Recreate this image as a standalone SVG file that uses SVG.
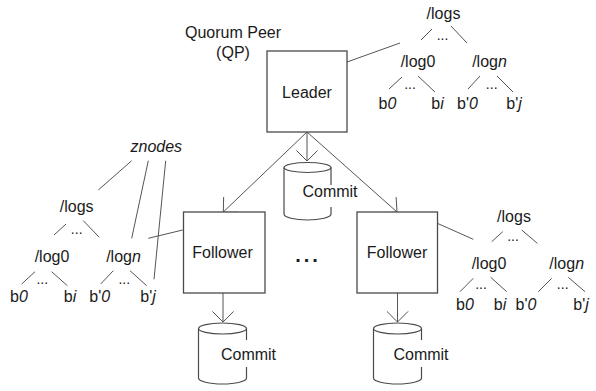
<svg xmlns="http://www.w3.org/2000/svg" width="596" height="391" viewBox="0 0 596 391">
<style>
text{font-family:"Liberation Sans",Arial,sans-serif;font-size:16px;fill:#1a1a1a;text-anchor:middle}
.it{font-style:italic}
.box{fill:#fff;stroke:#4a4a4a;stroke-width:1.3}
.ln{fill:none;stroke:#555;stroke-width:1}
.cyl{fill:none;stroke:#4a4a4a;stroke-width:1.2}
.dots{font-size:14px}
.big{font-size:20px;font-weight:bold;letter-spacing:3px}
</style>
<defs>
<marker id="arr" markerUnits="userSpaceOnUse" viewBox="-1 -1 13 23" markerWidth="13" markerHeight="23" refX="10.6" refY="10.6" orient="auto">
<path d="M0,0 L10.6,10.6 L0,21.2" fill="none" stroke="#555" stroke-width="1"/>
</marker>
</defs>

<g id="connectors" class="ln">
<line x1="307" y1="132" x2="307" y2="161" marker-end="url(#arr)"/>
<line x1="307" y1="132" x2="223.3" y2="212" marker-end="url(#arr)"/>
<line x1="307" y1="132" x2="397" y2="212" marker-end="url(#arr)"/>
<line x1="223" y1="293" x2="223" y2="322" marker-end="url(#arr)"/>
<line x1="397.5" y1="293" x2="397.5" y2="322" marker-end="url(#arr)"/>
<line x1="347" y1="62" x2="400" y2="43"/>
<line x1="182.7" y1="230" x2="148.3" y2="238.3"/>
<line x1="437.3" y1="223.3" x2="473.3" y2="239.3"/>
</g>

<g id="quorum-label">
<text x="233" y="37.5">Quorum Peer</text>
<text x="233" y="58">(QP)</text>
</g>

<g id="leader">
<rect class="box" x="267" y="51" width="80" height="81"/>
<text x="307" y="98">Leader</text>
</g>

<g id="follower-left">
<rect class="box" x="183.5" y="212" width="81.5" height="81"/>
<text x="222.5" y="257.5">Follower</text>
</g>

<g id="follower-right">
<rect class="box" x="357" y="212" width="80.5" height="81"/>
<text x="397" y="257.5">Follower</text>
</g>

<g id="ellipsis">
<text class="big" x="308" y="262">...</text>
</g>

<g id="commit-leader" class="cyl">
<ellipse cx="307.5" cy="167.5" rx="23.5" ry="5"/>
<path d="M284,167.5 V214 A23.5 6 0 0 0 331,214 V207 M331,185 V167.5"/>
<text x="330" y="197" stroke="none">Commit</text>
</g>

<g id="commit-left" class="cyl">
<ellipse cx="222.5" cy="328.5" rx="24" ry="5.5"/>
<path d="M198.5,328.5 V378 A24 6 0 0 0 246.5,378 V367 M246.5,340 V328.5"/>
<text x="248.5" y="359.5" stroke="none">Commit</text>
</g>

<g id="commit-right" class="cyl">
<ellipse cx="397.5" cy="328.5" rx="24" ry="5.5"/>
<path d="M373.5,328.5 V378 A24 6 0 0 0 421.5,378 V367 M421.5,340 V328.5"/>
<text x="421" y="359.5" stroke="none">Commit</text>
</g>

<g id="tree-leader">
<g class="ln">
<line x1="421" y1="40" x2="432" y2="29"/>
<line x1="451" y1="26" x2="467" y2="43"/>
<line x1="389" y1="89" x2="402" y2="77"/>
<line x1="418" y1="76" x2="435" y2="92"/>
<line x1="468" y1="89" x2="480" y2="76"/>
<line x1="497" y1="76" x2="513" y2="92"/>
</g>
<text x="443.5" y="18.5">/logs</text>
<text class="dots" x="442.5" y="39.5">...</text>
<text x="418" y="66.5">/log0</text>
<text x="489.5" y="66.5">/log<tspan class="it">n</tspan></text>
<text class="dots" x="410" y="88.5">...</text>
<text class="dots" x="491.7" y="88.5">...</text>
<text x="387.5" y="109">b<tspan class="it">0</tspan></text>
<text x="437.5" y="109">b<tspan class="it">i</tspan></text>
<text x="467.5" y="109">b'<tspan class="it">0</tspan></text>
<text x="514" y="109">b'<tspan class="it">j</tspan></text>
</g>

<g id="tree-left">
<g class="ln">
<line x1="131.7" y1="160.7" x2="98.3" y2="190"/>
<line x1="148.3" y1="160.7" x2="131.7" y2="238.3"/>
<line x1="165.7" y1="160.7" x2="154" y2="279.3"/>
<line x1="54" y1="235" x2="66" y2="224"/>
<line x1="83.3" y1="220.7" x2="99.3" y2="237.3"/>
<line x1="21.7" y1="284" x2="35" y2="271.7"/>
<line x1="51.7" y1="271.7" x2="67.3" y2="285.7"/>
<line x1="100.7" y1="284" x2="113.3" y2="270.7"/>
<line x1="130" y1="270.7" x2="146.7" y2="285.7"/>
</g>
<text class="it" x="156.3" y="152">znodes</text>
<text x="76.7" y="212">/logs</text>
<text class="dots" x="76.7" y="234">...</text>
<text x="52" y="261.5">/log0</text>
<text x="123.5" y="261.5">/log<tspan class="it">n</tspan></text>
<text class="dots" x="42.3" y="283.7">...</text>
<text class="dots" x="124.3" y="283.7">...</text>
<text x="19" y="301.5">b<tspan class="it">0</tspan></text>
<text x="70" y="301.5">b<tspan class="it">i</tspan></text>
<text x="99.7" y="301.5">b'<tspan class="it">0</tspan></text>
<text x="148" y="301.5">b'<tspan class="it">j</tspan></text>
</g>

<g id="tree-right">
<g class="ln">
<line x1="491.7" y1="241.7" x2="502.7" y2="231.7"/>
<line x1="521.7" y1="230" x2="537.3" y2="243.3"/>
<line x1="460" y1="291.7" x2="473.3" y2="278.3"/>
<line x1="490.7" y1="277.3" x2="506.7" y2="291.7"/>
<line x1="538.3" y1="291.7" x2="551.7" y2="278.3"/>
<line x1="568.3" y1="277.3" x2="585" y2="291.7"/>
</g>
<text x="514" y="222">/logs</text>
<text class="dots" x="513" y="241">...</text>
<text x="489" y="269">/log0</text>
<text x="566.7" y="269">/log<tspan class="it">n</tspan></text>
<text class="dots" x="481" y="289">...</text>
<text class="dots" x="562.7" y="289">...</text>
<text x="465" y="309.5">b<tspan class="it">0</tspan></text>
<text x="500" y="309.5">b<tspan class="it">i</tspan></text>
<text x="526" y="309.5">b'<tspan class="it">0</tspan></text>
<text x="581" y="309.5">b'<tspan class="it">j</tspan></text>
</g>
</svg>
